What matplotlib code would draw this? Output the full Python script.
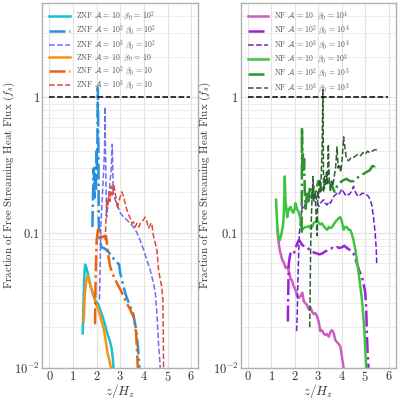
import numpy as np
import matplotlib
matplotlib.use("Agg")
import matplotlib.pyplot as plt
from matplotlib.ticker import FixedLocator, FixedFormatter, NullFormatter, LogLocator

plt.rcParams["font.family"] = "serif"
plt.rcParams["font.serif"] = ["cmr10", "DejaVu Serif"]
plt.rcParams["mathtext.fontset"] = "cm"
plt.rcParams["axes.formatter.use_mathtext"] = True

# ---- left panel: ZNF runs ----
znf_a10_b2_x = [1.41, 1.47, 1.51, 1.58, 1.66, 1.75, 1.86, 1.96, 2.05, 2.15, 2.25, 2.35, 2.45, 2.55, 2.63, 2.68, 2.71]
znf_a10_b2_y = [0.018, 0.045, 0.058, 0.054, 0.047, 0.040, 0.034, 0.031, 0.030, 0.027, 0.024, 0.021, 0.018, 0.016, 0.014, 0.012, 0.010]

znf_a10_b1_x = [1.45, 1.50, 1.56, 1.61, 1.68, 1.76, 1.86, 1.95, 2.08, 2.18, 2.29, 2.38, 2.46, 2.53, 2.60]
znf_a10_b1_y = [0.022, 0.035, 0.044, 0.048, 0.044, 0.039, 0.036, 0.030, 0.027, 0.023, 0.0197, 0.016, 0.0129, 0.0115, 0.010]

znf_a100_b2_x = [1.82, 1.86, 1.88, 1.90, 1.93, 1.96, 1.99, 2.01, 2.03, 2.05, 2.07, 2.09, 2.12, 2.20, 2.35, 2.50, 2.65,
                 2.80, 2.95, 3.00, 3.05, 3.15, 3.25, 3.40, 3.55, 3.65, 3.72, 3.78, 3.81]
znf_a100_b2_y = [0.11, 0.25, 0.30, 0.18, 0.27, 0.20, 0.40, 0.30, 0.45, 1.18, 0.50, 0.12, 0.09, 0.078, 0.076, 0.072, 0.066,
                 0.062, 0.058, 0.050, 0.046, 0.039, 0.034, 0.029, 0.025, 0.020, 0.016, 0.012, 0.010]

znf_a1000_b2_x = [2.12, 2.15, 2.17, 2.22, 2.28, 2.33, 2.36, 2.37, 2.42, 2.48, 2.55, 2.62, 2.66, 2.70, 2.78, 2.90, 3.00,
                  3.15, 3.28, 3.42, 3.56, 3.70, 3.84, 3.98, 4.12, 4.25, 4.34, 4.42, 4.48, 4.55, 4.62, 4.69]
znf_a1000_b2_y = [0.032, 0.06, 0.10, 0.16, 0.25, 0.40, 0.85, 0.45, 0.13, 0.16, 0.22, 0.30, 0.45, 0.20, 0.175, 0.155, 0.14,
                  0.13, 0.124, 0.117, 0.11, 0.10, 0.088, 0.075, 0.063, 0.054, 0.047, 0.041, 0.036, 0.025, 0.015, 0.010]

znf_a100_b1_x = [1.93, 1.96, 2.00, 2.04, 2.08, 2.14, 2.22, 2.30, 2.40, 2.48, 2.57, 2.67, 2.78, 2.90, 3.00, 3.10, 3.20,
                 3.32, 3.42, 3.50, 3.56, 3.62, 3.67, 3.71, 3.74]
znf_a100_b1_y = [0.021, 0.05, 0.088, 0.10, 0.11, 0.095, 0.092, 0.094, 0.094, 0.07, 0.056, 0.05, 0.045, 0.041, 0.038, 0.035, 0.032,
                 0.029, 0.027, 0.025, 0.024, 0.021, 0.018, 0.013, 0.010]

znf_a1000_b1_x = [2.36, 2.40, 2.43, 2.47, 2.52, 2.57, 2.62, 2.67, 2.71, 2.76, 2.82, 2.88, 2.92, 2.98, 3.06, 3.14, 3.22, 3.28,
                  3.36, 3.42, 3.49, 3.56, 3.63, 3.70, 3.78, 3.86, 3.94, 4.00, 4.05, 4.10, 4.15, 4.19, 4.25, 4.30, 4.34,
                  4.40, 4.47, 4.55, 4.62, 4.69, 4.75, 4.80, 4.82, 4.83]
znf_a1000_b1_y = [0.088, 0.13, 0.175, 0.16, 0.20, 0.17, 0.22, 0.19, 0.23, 0.21, 0.18, 0.15, 0.165, 0.18, 0.20, 0.185, 0.16, 0.147,
                  0.135, 0.128, 0.117, 0.12, 0.11, 0.117, 0.11, 0.118, 0.122, 0.126, 0.13, 0.125, 0.115, 0.108, 0.112, 0.118, 0.114,
                  0.095, 0.085, 0.074, 0.053, 0.045, 0.040, 0.032, 0.018, 0.010]

# ---- right panel: NF runs ----
nf_a10_b4_x = [1.26, 1.30, 1.36, 1.42, 1.47, 1.54, 1.61, 1.68, 1.75, 1.82, 1.89, 1.96, 2.03, 2.10, 2.18, 2.25, 2.32, 2.39, 2.46,
               2.53, 2.60, 2.67, 2.74, 2.81, 2.88, 2.95, 3.02, 3.09, 3.16, 3.23, 3.30, 3.37, 3.45, 3.52, 3.59, 3.66, 3.73,
               3.80, 3.87, 3.94, 4.01, 4.08]
nf_a10_b4_y = [0.108, 0.09, 0.075, 0.068, 0.063, 0.060, 0.055, 0.056, 0.052, 0.046, 0.044, 0.040, 0.038, 0.034, 0.033, 0.034, 0.036,
               0.031, 0.030, 0.029, 0.027, 0.028, 0.026, 0.025, 0.0254, 0.024, 0.022, 0.0187, 0.019, 0.018, 0.0175, 0.0178, 0.0170,
               0.0185, 0.019, 0.018, 0.016, 0.0155, 0.0150, 0.0144, 0.012, 0.010]

nf_a100_b4_x = [1.71, 1.73, 1.75, 1.79, 1.82, 1.89, 1.96, 2.05, 2.12, 2.18, 2.25, 2.32, 2.42, 2.53, 2.64, 2.74, 2.85, 2.95, 3.05,
                3.16, 3.27, 3.38, 3.48, 3.59, 3.70, 3.80, 3.90, 4.01, 4.11, 4.22, 4.36, 4.50, 4.58, 4.65, 4.75, 4.86, 4.94,
                5.00, 5.04, 5.07, 5.10, 5.14]
nf_a100_b4_y = [0.022, 0.04, 0.059, 0.066, 0.07, 0.072, 0.070, 0.078, 0.084, 0.088, 0.085, 0.081, 0.079, 0.078, 0.074, 0.072, 0.071,
                0.070, 0.069, 0.070, 0.072, 0.074, 0.075, 0.077, 0.076, 0.078, 0.077, 0.078, 0.080, 0.077, 0.074, 0.070, 0.064,
                0.059, 0.052, 0.047, 0.041, 0.036, 0.028, 0.018, 0.013, 0.010]

nf_a1000_b4_x = [2.08, 2.11, 2.13, 2.17, 2.20, 2.26, 2.32, 2.39, 2.46, 2.53, 2.60, 2.67, 2.74, 2.81, 2.88, 2.95, 3.02, 3.09, 3.16,
                 3.23, 3.30, 3.38, 3.45, 3.52, 3.59, 3.66, 3.73, 3.80, 3.87, 3.94, 4.01, 4.08, 4.15, 4.22, 4.29, 4.36, 4.43,
                 4.50, 4.58, 4.65, 4.72, 4.79, 4.86, 4.93, 5.00, 5.07, 5.14, 5.21, 5.28, 5.35, 5.42, 5.47, 5.49]
nf_a1000_b4_y = [0.0187, 0.025, 0.04, 0.07, 0.099, 0.13, 0.156, 0.15, 0.165, 0.17, 0.18, 0.185, 0.175, 0.19, 0.195, 0.17, 0.156,
                 0.165, 0.17, 0.175, 0.165, 0.16, 0.17, 0.165, 0.175, 0.185, 0.19, 0.195, 0.19, 0.20, 0.21, 0.20, 0.19, 0.195,
                 0.19, 0.195, 0.205, 0.22, 0.20, 0.19, 0.185, 0.19, 0.195, 0.195, 0.195, 0.19, 0.185, 0.175, 0.16, 0.13, 0.10,
                 0.075, 0.058]

nf_a10_b3_x = [1.21, 1.25, 1.29, 1.33, 1.37, 1.42, 1.47, 1.52, 1.55, 1.58, 1.61, 1.64, 1.68, 1.71, 1.76, 1.82, 1.88, 1.94, 2.00,
               2.03, 2.10, 2.18, 2.25, 2.32, 2.39, 2.46, 2.53, 2.60, 2.67, 2.74, 2.81, 2.88, 2.95, 3.02, 3.09, 3.16, 3.23,
               3.30, 3.38, 3.45, 3.52, 3.59, 3.66, 3.73, 3.80, 3.87, 3.94, 4.01, 4.08, 4.15, 4.22, 4.29, 4.36, 4.43, 4.50,
               4.58, 4.65, 4.72, 4.79, 4.86, 4.92, 4.97, 5.01, 5.04]
nf_a10_b3_y = [0.175, 0.12, 0.099, 0.09, 0.088, 0.095, 0.105, 0.12, 0.16, 0.26, 0.17, 0.155, 0.13, 0.14, 0.15, 0.155, 0.145, 0.14, 0.15,
               0.165, 0.15, 0.14, 0.125, 0.105, 0.108, 0.11, 0.11, 0.112, 0.108, 0.11, 0.118, 0.12, 0.124, 0.118, 0.115,
               0.117, 0.112, 0.108, 0.105, 0.11, 0.108, 0.11, 0.115, 0.12, 0.124, 0.128, 0.13, 0.12, 0.105, 0.11, 0.11,
               0.105, 0.105, 0.098, 0.088, 0.075, 0.062, 0.05, 0.04, 0.032, 0.024, 0.018, 0.013, 0.010]

nf_a100_b3_x = [2.30, 2.31, 2.33, 2.35, 2.37, 2.40, 2.43, 2.47, 2.52, 2.58, 2.65, 2.72, 2.80, 2.90, 3.00, 3.10, 3.20, 3.30, 3.40,
                3.50, 3.60, 3.70, 3.80, 3.90, 4.00, 4.10, 4.20, 4.35, 4.50, 4.60, 4.75, 4.90, 5.05, 5.20, 5.30, 5.40, 5.50]
nf_a100_b3_y = [0.10, 0.60, 0.30, 0.38, 0.28, 0.35, 0.20, 0.15, 0.20, 0.17, 0.22, 0.18, 0.22, 0.20, 0.24, 0.22, 0.20, 0.23, 0.24,
                0.23, 0.22, 0.20, 0.22, 0.23, 0.24, 0.245, 0.25, 0.24, 0.24, 0.25, 0.26, 0.27, 0.28, 0.29, 0.31, 0.31, 0.33]

nf_a1000_b3_x = [2.64, 2.68, 2.72, 2.78, 2.82, 2.86, 2.90, 2.95, 2.98, 3.02, 3.06, 3.10, 3.14, 3.17, 3.20, 3.23, 3.27, 3.31,
                 3.35, 3.39, 3.43, 3.47, 3.52, 3.57, 3.62, 3.68, 3.74, 3.80, 3.85, 3.90, 3.96, 4.02, 4.08, 4.14, 4.20,
                 4.30, 4.40, 4.50, 4.60, 4.70, 4.80, 4.90, 5.00, 5.10, 5.20, 5.30, 5.40, 5.50]
nf_a1000_b3_y = [0.02, 0.08, 0.15, 0.26, 0.17, 0.20, 0.15, 0.095, 0.20, 0.18, 0.25, 0.20, 0.30, 0.45, 1.14, 0.20, 0.26, 0.22,
                 0.28, 0.23, 0.45, 0.25, 0.20, 0.24, 0.22, 0.26, 0.30, 0.43, 0.30, 0.32, 0.28, 0.35, 0.51, 0.42, 0.35,
                 0.34, 0.36, 0.36, 0.37, 0.38, 0.37, 0.39, 0.38, 0.40, 0.39, 0.40, 0.41, 0.41]

left_series = [
    (znf_a10_b2_x, znf_a10_b2_y, r"ZNF $\mathcal{A}\,=\,10\ \ \beta_0\,=\,10^2$", "#1bbfd3", "-", 1.8),
    (znf_a100_b2_x, znf_a100_b2_y, r"ZNF $\mathcal{A}\,=\,10^2\ \beta_0\,=\,10^2$", "#2b8fdc", "-.", 1.8),
    (znf_a1000_b2_x, znf_a1000_b2_y, r"ZNF $\mathcal{A}\,=\,10^3\ \beta_0\,=\,10^2$", "#6f6ff0", "--", 1.1),
    (znf_a10_b1_x, znf_a10_b1_y, r"ZNF $\mathcal{A}\,=\,10\ \ \beta_0\,=\,10$", "#fb9214", "-", 1.8),
    (znf_a100_b1_x, znf_a100_b1_y, r"ZNF $\mathcal{A}\,=\,10^2\ \beta_0\,=\,10$", "#e9620f", "-.", 1.8),
    (znf_a1000_b1_x, znf_a1000_b1_y, r"ZNF $\mathcal{A}\,=\,10^3\ \beta_0\,=\,10$", "#e04a3c", "--", 1.1),
]
right_series = [
    (nf_a10_b4_x, nf_a10_b4_y, r"NF $\mathcal{A}\,=\,10\ \ \beta_0\,=\,10^4$", "#cc5ec2", "-", 1.8),
    (nf_a100_b4_x, nf_a100_b4_y, r"NF $\mathcal{A}\,=\,10^2\ \beta_0\,=\,10^4$", "#9b22d8", "-.", 1.8),
    (nf_a1000_b4_x, nf_a1000_b4_y, r"NF $\mathcal{A}\,=\,10^3\ \beta_0\,=\,10^4$", "#6a24c6", "--", 1.1),
    (nf_a10_b3_x, nf_a10_b3_y, r"NF $\mathcal{A}\,=\,10\ \ \beta_0\,=\,10^3$", "#3dc63d", "-", 1.8),
    (nf_a100_b3_x, nf_a100_b3_y, r"NF $\mathcal{A}\,=\,10^2\ \beta_0\,=\,10^3$", "#2f942f", "-.", 1.8),
    (nf_a1000_b3_x, nf_a1000_b3_y, r"NF $\mathcal{A}\,=\,10^3\ \beta_0\,=\,10^3$", "#2e5f2e", "--", 1.1),
]

fig = plt.figure(figsize=(3.99, 3.99), dpi=100)
ax1 = fig.add_axes([0.106, 0.078, 0.391, 0.915])
ax2 = fig.add_axes([0.603, 0.078, 0.389, 0.915])

for ax, series, ylab_x in [(ax1, left_series, -0.165), (ax2, right_series, -0.178)]:
    for x, y, lab, col, ls, lw in series:
        ax.plot(x, y, ls, color=col, lw=lw, label=lab)
    ax.plot([0, 5.95], [1, 1], "--", color="black", lw=1.1)
    ax.set_yscale("log")
    ax.set_ylim(0.01, 5)
    ax.set_xlim(-0.3, 6.3)
    ax.set_xticks(range(7))
    ax.set_xticklabels([f"${i}$" for i in range(7)])
    ax.yaxis.set_major_locator(FixedLocator([0.01, 0.1, 1]))
    ax.yaxis.set_major_formatter(FixedFormatter([r"$10^{-2}$", r"$0.1$", r"$1$"]))
    ax.yaxis.set_minor_locator(LogLocator(base=10, subs=np.arange(2, 10)))
    ax.yaxis.set_minor_formatter(NullFormatter())
    ax.grid(True, which="major", color="#e2e2e2", lw=0.8)
    ax.grid(True, which="minor", axis="y", color="#ececec", lw=0.7)
    ax.set_axisbelow(True)
    for s in ax.spines.values():
        s.set_color("#b0b0b0")
        s.set_linewidth(1.0)
    ax.tick_params(which="both", labelcolor="#333333", labelsize=9, length=0, pad=1.5)
    ax.set_xlabel(r"$z/H_z$", fontsize=9.5, color="#333333")
    ax.xaxis.set_label_coords(0.5, -0.038)
    ax.set_ylabel(r"Fraction of Free Streaming Heat Flux $(f_s)$", fontsize=8, color="#333333")
    ax.yaxis.set_label_coords(ylab_x, 0.5)
    ax.legend(loc="upper left", frameon=False, fontsize=5.6, handlelength=2.6, labelspacing=0.05,
              labelcolor="#555555", borderaxespad=0.5, handletextpad=0.8)

fig.savefig("out.png", dpi=100)
